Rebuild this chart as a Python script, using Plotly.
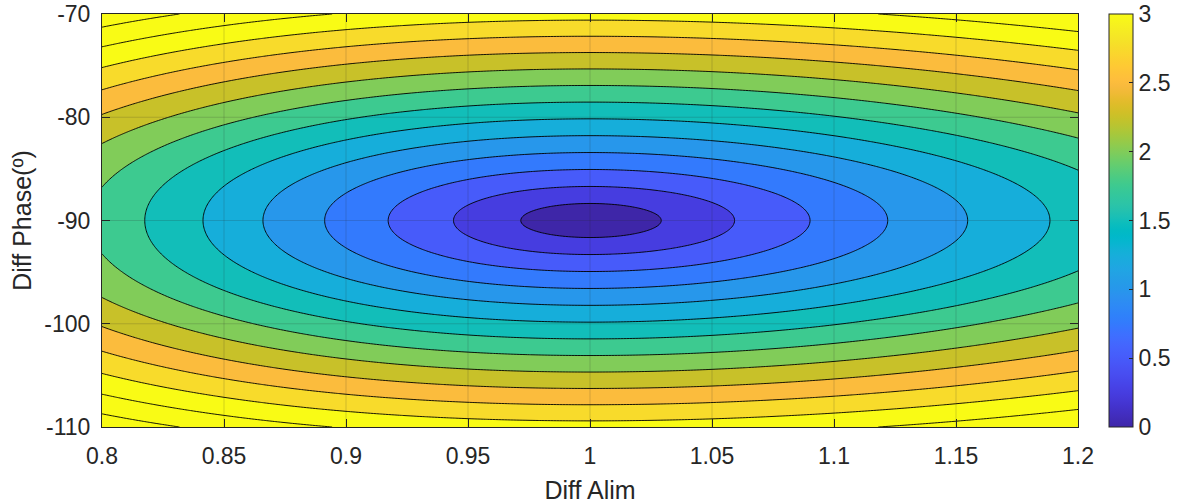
import numpy as np
import plotly.graph_objects as go

# ---------------- data ----------------
amp_range = [0.8, 1.2]          # Diff Alim (amplitude ratio)
phase_range = [-110, -70]       # Diff Phase (deg)
x_ticks = [0.8, 0.85, 0.9, 0.95, 1.0, 1.05, 1.1, 1.15, 1.2]
x_tick_text = ["0.8", "0.85", "0.9", "0.95", "1", "1.05", "1.1", "1.15", "1.2"]
y_ticks = [-110, -100, -90, -80, -70]
y_tick_text = ["-110", "-100", "-90", "-80", "-70"]
level_start, level_end, level_step = 0.25, 3.5, 0.25
cbar_ticks = [0, 0.5, 1, 1.5, 2, 2.5, 3]
cbar_tick_text = ["0", "0.5", "1", "1.5", "2", "2.5", "3"]
clim = [0, 3]

# axial ratio (dB) of two orthogonal components, amplitude ratio A and phase difference d
amp = np.linspace(amp_range[0], amp_range[1], 321)
phase = np.linspace(phase_range[0], phase_range[1], 321)
AA, PP = np.meshgrid(amp, phase)
root = np.sqrt(np.clip(1 + AA**4 + 2 * AA**2 * np.cos(np.deg2rad(2 * PP)), 0, None))
ar = np.sqrt((1 + AA**2 + root) / (1 + AA**2 - root))
z = 20 * np.log10(ar)

# ---------------- style ----------------
parula = [
    (0.2422, 0.1504, 0.6603), (0.2504, 0.1650, 0.7076), (0.2578, 0.1818, 0.7511), (0.2647, 0.1978, 0.7952),
    (0.2706, 0.2147, 0.8364), (0.2751, 0.2342, 0.8710), (0.2783, 0.2559, 0.8991), (0.2803, 0.2782, 0.9221),
    (0.2813, 0.3006, 0.9414), (0.2810, 0.3228, 0.9579), (0.2795, 0.3447, 0.9717), (0.2760, 0.3667, 0.9829),
    (0.2699, 0.3892, 0.9906), (0.2602, 0.4123, 0.9952), (0.2440, 0.4358, 0.9988), (0.2206, 0.4603, 0.9973),
    (0.1963, 0.4847, 0.9892), (0.1834, 0.5074, 0.9798), (0.1786, 0.5289, 0.9682), (0.1764, 0.5499, 0.9520),
    (0.1687, 0.5703, 0.9359), (0.1540, 0.5902, 0.9218), (0.1460, 0.6091, 0.9079), (0.1380, 0.6276, 0.8973),
    (0.1248, 0.6459, 0.8883), (0.1113, 0.6635, 0.8763), (0.0952, 0.6798, 0.8598), (0.0689, 0.6948, 0.8394),
    (0.0297, 0.7082, 0.8163), (0.0036, 0.7203, 0.7917), (0.0067, 0.7312, 0.7660), (0.0433, 0.7411, 0.7394),
    (0.0964, 0.7500, 0.7120), (0.1408, 0.7584, 0.6842), (0.1717, 0.7670, 0.6554), (0.1938, 0.7758, 0.6251),
    (0.2161, 0.7843, 0.5923), (0.2470, 0.7918, 0.5567), (0.2906, 0.7973, 0.5188), (0.3406, 0.8008, 0.4789),
    (0.3909, 0.8029, 0.4354), (0.4456, 0.8024, 0.3909), (0.5044, 0.7993, 0.3480), (0.5616, 0.7942, 0.3045),
    (0.6174, 0.7876, 0.2612), (0.6720, 0.7793, 0.2227), (0.7242, 0.7698, 0.1910), (0.7738, 0.7598, 0.1646),
    (0.8203, 0.7498, 0.1535), (0.8634, 0.7406, 0.1596), (0.9035, 0.7330, 0.1774), (0.9393, 0.7288, 0.2100),
    (0.9728, 0.7298, 0.2394), (0.9956, 0.7434, 0.2371), (0.9970, 0.7659, 0.2199), (0.9952, 0.7893, 0.2028),
    (0.9892, 0.8136, 0.1885), (0.9786, 0.8386, 0.1766), (0.9676, 0.8639, 0.1643), (0.9610, 0.8890, 0.1537),
    (0.9597, 0.9135, 0.1423), (0.9628, 0.9373, 0.1265), (0.9691, 0.9606, 0.1064), (0.9769, 0.9839, 0.0805),
]
def rgb(c):
    return "rgb(%d,%d,%d)" % tuple(round(v * 255) for v in c)

n = len(parula)
parula_scale = [[i / (n - 1), rgb(c)] for i, c in enumerate(parula)]

# contour fill: band above level L gets parula(L / clim_max), clipped at clim_max (MATLAB style)
n_levels = int(round((level_end - level_start) / level_step)) + 1
frac = (clim[1] / level_step) / n_levels
fill_scale = [[p * frac, c] for p, c in parula_scale]
if frac < 1:
    fill_scale.append([1.0, rgb(parula[-1])])

FONT = "Liberation Sans, Arial, Helvetica, sans-serif"
AX = "#262626"

fig = go.Figure()
fig.add_trace(go.Contour(
    x=amp, y=phase, z=z,
    autocontour=False,
    contours=dict(start=level_start, end=level_end, size=level_step, coloring="fill"),
    colorscale=fill_scale,
    showscale=False,
    line=dict(color="rgba(0,0,0,0.9)", width=1, smoothing=1),
    hoverinfo="skip",
))
# continuous colorbar
fig.add_trace(go.Scatter(
    x=[None], y=[None], mode="markers", showlegend=False, hoverinfo="skip",
    marker=dict(color=[0], colorscale=parula_scale, cmin=clim[0], cmax=clim[1], showscale=True,
                colorbar=dict(
                    x=(1109 - 102) / 976, xanchor="left", xpad=0, ypad=0,
                    y=0.5, yanchor="middle", len=1, lenmode="fraction",
                    thickness=24, thicknessmode="pixels",
                    outlinewidth=1, outlinecolor=AX,
                    tickvals=cbar_ticks, ticktext=cbar_tick_text,
                    ticks="inside", ticklen=4, tickcolor=AX,
                    tickfont=dict(family=FONT, size=23, color=AX),
                )),
))

# grid lines drawn above the filled contours (MATLAB grid on)
shapes = []
for xv in x_ticks[1:-1]:
    shapes.append(dict(type="line", xref="x", yref="y", x0=xv, x1=xv, y0=phase_range[0], y1=phase_range[1],
                       line=dict(color="rgba(38,38,38,0.18)", width=1), layer="above"))
for yv in y_ticks[1:-1]:
    shapes.append(dict(type="line", xref="x", yref="y", y0=yv, y1=yv, x0=amp_range[0], x1=amp_range[1],
                       line=dict(color="rgba(38,38,38,0.18)", width=1), layer="above"))

fig.update_layout(
    width=1180, height=504,
    margin=dict(l=102, r=102, t=14, b=77, autoexpand=False),
    paper_bgcolor="white", plot_bgcolor="white",
    font=dict(family=FONT, color=AX),
    shapes=shapes,
    showlegend=False,
    xaxis=dict(
        range=amp_range, tickvals=x_ticks, ticktext=x_tick_text, automargin=False,
        ticks="inside", ticklen=8, tickcolor=AX, showline=True, linecolor=AX, linewidth=1,
        mirror="allticks", showgrid=False, zeroline=False, layer="above traces",
        ticklabelstandoff=8,
        tickfont=dict(family=FONT, size=23, color=AX),
        title=dict(text="Diff Alim", font=dict(family=FONT, size=25, color=AX), standoff=15),
    ),
    yaxis=dict(
        range=phase_range, tickvals=y_ticks, ticktext=y_tick_text, automargin=False,
        ticks="inside", ticklen=8, tickcolor=AX, showline=True, linecolor=AX, linewidth=1,
        mirror="allticks", showgrid=False, zeroline=False, layer="above traces",
        ticklabelstandoff=6,
        tickfont=dict(family=FONT, size=23, color=AX),
        title=dict(text="Diff Phase(º)", font=dict(family=FONT, size=25, color=AX), standoff=5),
    ),
)

fig.write_html("out.html", config={"displayModeBar": False},
               post_script=["document.body.style.margin='0';"])
